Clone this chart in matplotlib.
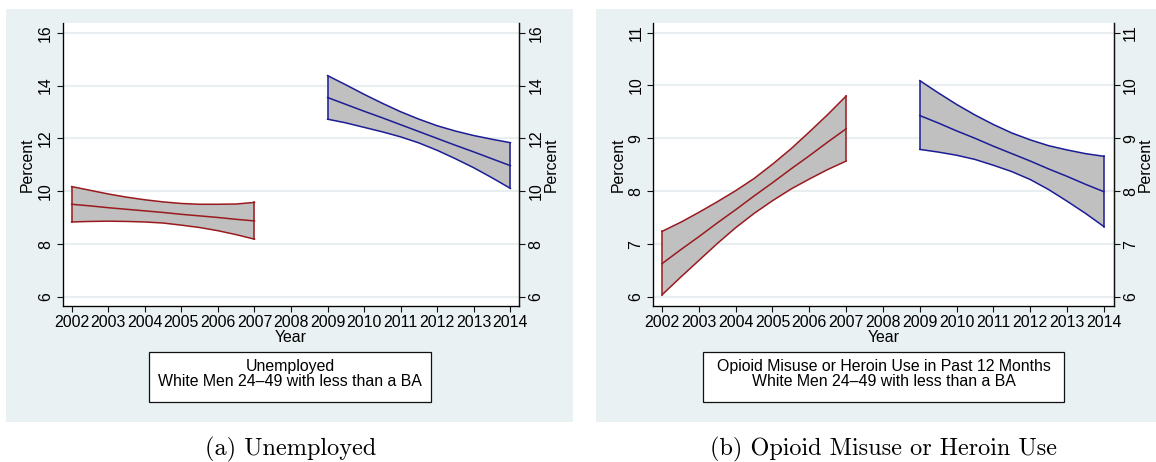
import matplotlib
matplotlib.use("Agg")
import matplotlib.pyplot as plt
from matplotlib.patches import Rectangle

plt.rcParams['font.family'] = ['Liberation Sans', 'DejaVu Sans']

# ---------------- data (read at half-year steps) ----------------
years_pre = [2002, 2002.5, 2003, 2003.5, 2004, 2004.5, 2005, 2005.5, 2006, 2006.5, 2007]
years_post = [2009, 2009.5, 2010, 2010.5, 2011, 2011.5, 2012, 2012.5, 2013, 2013.5, 2014]
xticks = [2002, 2003, 2004, 2005, 2006, 2007, 2008, 2009, 2010, 2011, 2012, 2013, 2014]

# Panel (a): Unemployed
unemp_pre_fit = [9.51, 9.45, 9.38, 9.32, 9.26, 9.20, 9.13, 9.07, 9.01, 8.94, 8.88]
unemp_pre_hi = [10.18, 10.04, 9.90, 9.78, 9.68, 9.60, 9.54, 9.51, 9.51, 9.52, 9.58]
unemp_pre_lo = [8.84, 8.86, 8.87, 8.86, 8.84, 8.80, 8.72, 8.63, 8.51, 8.36, 8.19]
unemp_post_fit = [13.55, 13.29, 13.03, 12.78, 12.52, 12.26, 12.00, 11.74, 11.49, 11.23, 10.97]
unemp_post_hi = [14.38, 14.03, 13.67, 13.33, 13.01, 12.73, 12.48, 12.28, 12.11, 11.97, 11.84]
unemp_post_lo = [12.73, 12.59, 12.42, 12.25, 12.06, 11.83, 11.55, 11.23, 10.89, 10.51, 10.11]
unemp_yticks = [6, 8, 10, 12, 14, 16]

# Panel (b): Opioid misuse or heroin use
opioid_pre_fit = [6.63, 6.89, 7.14, 7.40, 7.65, 7.91, 8.16, 8.42, 8.67, 8.93, 9.18]
opioid_pre_hi = [7.24, 7.41, 7.60, 7.80, 8.01, 8.24, 8.51, 8.80, 9.12, 9.45, 9.80]
opioid_pre_lo = [6.04, 6.37, 6.69, 7.01, 7.31, 7.58, 7.82, 8.04, 8.23, 8.41, 8.57]
opioid_post_fit = [9.43, 9.29, 9.14, 9.00, 8.85, 8.71, 8.57, 8.42, 8.28, 8.13, 7.99]
opioid_post_hi = [10.09, 9.86, 9.64, 9.44, 9.26, 9.10, 8.97, 8.86, 8.78, 8.71, 8.66]
opioid_post_lo = [8.79, 8.74, 8.68, 8.60, 8.49, 8.37, 8.22, 8.03, 7.81, 7.58, 7.33]
opioid_yticks = [6, 7, 8, 9, 10, 11]

box_a = ["Unemployed", "White Men 24\u201349 with less than a BA"]
box_b = ["Opioid Misuse or Heroin Use in Past 12 Months",
         "White Men 24\u201349 with less than a BA"]
caption_a = "(a) Unemployed"
caption_b = "(b) Opioid Misuse or Heroin Use"

# ---------------- style ----------------
W, H = 1156, 462
BG = '#e9f1f3'
GRID = '#e9eff1'
RED = '#9a1a1f'
BLUE = '#1c1c96'
FILL = '#c0c0c0'
AX = '#111111'
FS = 11.4
LW = 1.1

fig = plt.figure(figsize=(W / 100, H / 100), dpi=100)


def fx(x):
    return x / W


def fy(y):
    return 1 - y / H


def panel(bg_x0, bg_x1, ax_x0, ax_x1, xlim, ylim, yticks,
          pre, post, box_lines, box_x0, box_x1, caption, cap_x):
    # panel background
    fig.patches.append(Rectangle((fx(bg_x0), fy(422)), fx(bg_x1 - bg_x0), (422 - 9) / H,
                                 transform=fig.transFigure, facecolor=BG,
                                 edgecolor='none', zorder=-5))
    ax = fig.add_axes([fx(ax_x0), fy(306), fx(ax_x1 - ax_x0), (306 - 23) / H])
    ax.set_zorder(1)
    ax.set_facecolor('white')
    ax.set_xlim(*xlim)
    ax.set_ylim(*ylim)
    for yt in yticks:
        ax.axhline(yt, color=GRID, lw=1.6, zorder=0.5)
    for (yrs, fit, lo, hi), col in zip([pre, post], [RED, BLUE]):
        ax.fill_between(yrs, lo, hi, facecolor=FILL, edgecolor='none', zorder=1)
        ax.plot(yrs, hi, color=col, lw=LW, zorder=2)
        ax.plot(yrs, lo, color=col, lw=LW, zorder=2)
        ax.plot(yrs, fit, color=col, lw=LW, zorder=2)
        ax.plot([yrs[0], yrs[0]], [lo[0], hi[0]], color=col, lw=LW, zorder=2)
        ax.plot([yrs[-1], yrs[-1]], [lo[-1], hi[-1]], color=col, lw=LW, zorder=2)
    ax.set_xticks(xticks)
    ax.set_xticklabels([str(x) for x in xticks])
    ax.set_yticks(yticks)
    ax.set_yticklabels([str(y) for y in yticks], rotation=90, va='center')
    ax.tick_params(axis='both', direction='out', length=4.5, width=0.8,
                   color=AX, labelsize=FS, pad=2.5)
    ax.tick_params(axis='x', pad=2)
    ax.spines['top'].set_visible(False)
    for s in ['left', 'right', 'bottom']:
        ax.spines[s].set_color(AX)
        ax.spines[s].set_linewidth(0.9)
    ax.set_xlabel('Year', fontsize=FS, labelpad=0)
    ax.set_ylabel('Percent', fontsize=FS, labelpad=2)

    ax2 = ax.twinx()
    ax2.set_ylim(*ylim)
    ax2.set_yticks(yticks)
    ax2.set_yticklabels([str(y) for y in yticks], rotation=90, va='center')
    ax2.tick_params(axis='y', direction='out', length=4.5, width=0.8,
                    color=AX, labelsize=FS, pad=2.5)
    ax2.set_ylabel('Percent', fontsize=FS, rotation=90, labelpad=0)
    ax2.spines['top'].set_visible(False)
    ax2.spines['right'].set_color(AX)
    ax2.spines['right'].set_linewidth(0.9)

    # note box
    fig.patches.append(Rectangle((fx(box_x0), fy(402)), fx(box_x1 - box_x0), 50 / H,
                                 transform=fig.transFigure, facecolor='white',
                                 edgecolor=AX, lw=0.9, zorder=2))
    cx = fx((box_x0 + box_x1) / 2)
    fig.text(cx, fy(367), box_lines[0], ha='center', va='center', fontsize=FS, zorder=3)
    fig.text(cx, fy(382), box_lines[1], ha='center', va='center', fontsize=FS, zorder=3)

    fig.text(fx(cap_x), fy(449), caption, ha='center', va='center',
             fontsize=17.5, family='cmr10')
    return ax


panel(6, 573, 62.5, 519, (2001.75, 2014.235), (5.66, 16.37), unemp_yticks,
      (years_pre, unemp_pre_fit, unemp_pre_lo, unemp_pre_hi),
      (years_post, unemp_post_fit, unemp_post_lo, unemp_post_hi),
      box_a, 149, 431, caption_a, 291)

panel(596, 1156, 653, 1113.5, (2001.756, 2014.258), (5.83, 11.18), opioid_yticks,
      (years_pre, opioid_pre_fit, opioid_pre_lo, opioid_pre_hi),
      (years_post, opioid_post_fit, opioid_post_lo, opioid_post_hi),
      box_b, 703, 1064, caption_b, 884)

fig.savefig('out.png', dpi=100)
